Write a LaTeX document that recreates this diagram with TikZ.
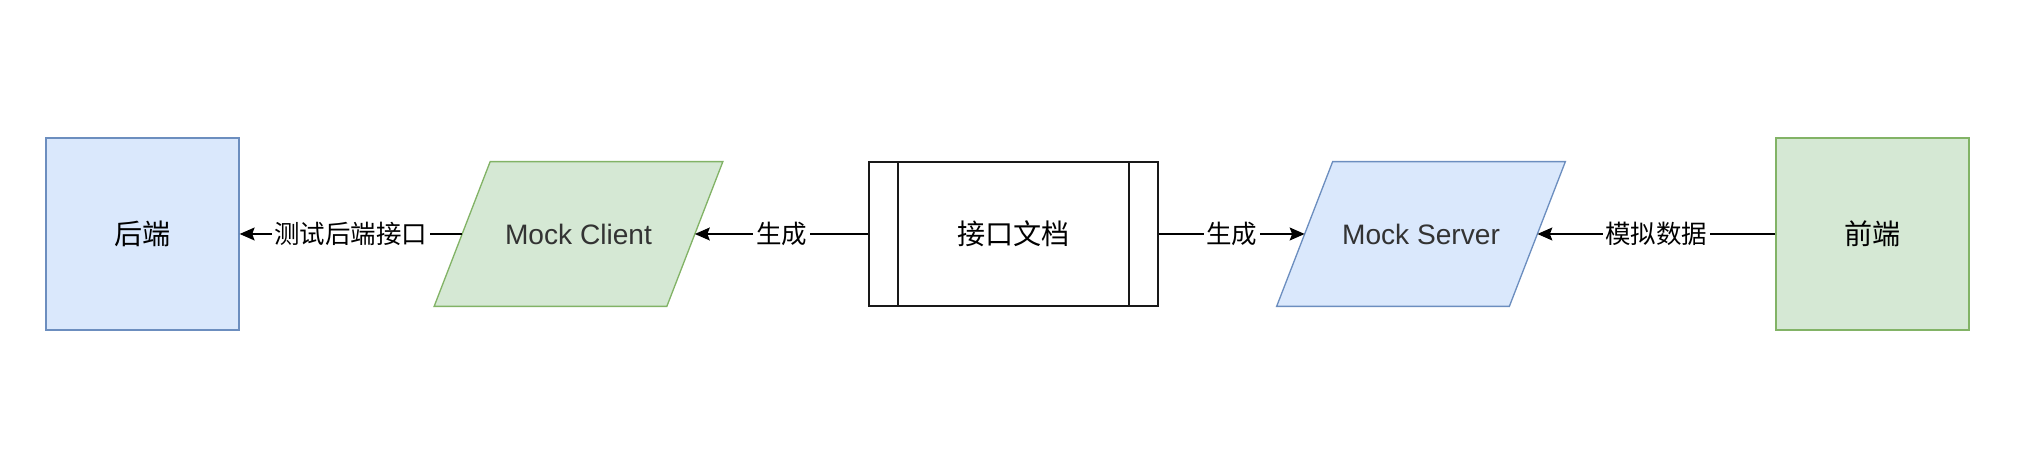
\documentclass[tikz,border=0pt]{standalone}
\usepackage{fontspec}
\setmainfont{Liberation Sans}
\newfontfamily\cjk{Noto Sans CJK SC}
\usetikzlibrary{arrows.meta,backgrounds}

\definecolor{blueFill}{HTML}{DAE8FC}
\definecolor{blueLine}{HTML}{6C8EBF}
\definecolor{greenFill}{HTML}{D5E8D4}
\definecolor{greenLine}{HTML}{82B366}

\tikzset{
    endbox/.style={draw, line width=0.75pt, inner sep=0pt, minimum width=3.86cm,
        minimum height=3.84cm, font=\cjk\fontsize{16}{19}\selectfont},
    mockbox/.style={inner sep=0pt, minimum width=4.64cm, minimum height=2.88cm,
        text=black!80, font=\fontsize{16}{19}\selectfont},
    slant/.style={line width=0.75pt, line join=miter},
    docbox/.style={draw=black!90, line width=0.75pt, inner sep=0pt, minimum width=5.78cm,
        minimum height=2.88cm, font=\cjk\fontsize{16}{19}\selectfont,
        path picture={
            \draw[line width=0.75pt] ([xshift=0.58cm]path picture bounding box.north west)
                -- ([xshift=0.58cm]path picture bounding box.south west);
            \draw[line width=0.75pt] ([xshift=-0.58cm]path picture bounding box.north east)
                -- ([xshift=-0.58cm]path picture bounding box.south east);
        }},
    arr/.style={line width=0.75pt, -{Stealth[length=0.3cm, width=0.26cm, inset=0.05cm]}},
    lbl/.style={fill=white, inner sep=1.5pt, font=\cjk\fontsize{14.5}{17}\selectfont}
}

\begin{document}
\begin{tikzpicture}
\useasboundingbox (0,0) rectangle (40.44,-9.28);

% Ends
\node[endbox, draw=blueLine, fill=blueFill] (back) at (2.85,-4.68) {后端};
\node[endbox, draw=greenLine, fill=greenFill] (front) at (37.45,-4.68) {前端};

% Mocks
\node[mockbox] (client) at (11.57,-4.68) {Mock Client};
\node[mockbox] (server) at (28.42,-4.68) {Mock Server};
\begin{scope}[on background layer]
\foreach \n/\c in {client/green, server/blue} {
    \draw[slant, draw=\c Line, fill=\c Fill]
        ([xshift=-0.56cm]\n.south west) -- ([xshift=-0.56cm]\n.south east)
        -- ([xshift=0.56cm]\n.north east) -- ([xshift=0.56cm]\n.north west) -- cycle;
}
\end{scope}

% Interface document
\node[docbox] (doc) at (20.27,-4.68) {接口文档};

% Arrows
\draw[arr] (client) -- node[lbl] {测试后端接口} (back);
\draw[arr] (doc) -- node[lbl] {生成} (client);
\draw[arr] (doc) -- node[lbl] {生成} (server);
\draw[arr] (front) -- node[lbl] {模拟数据} (server);
\end{tikzpicture}
\end{document}
